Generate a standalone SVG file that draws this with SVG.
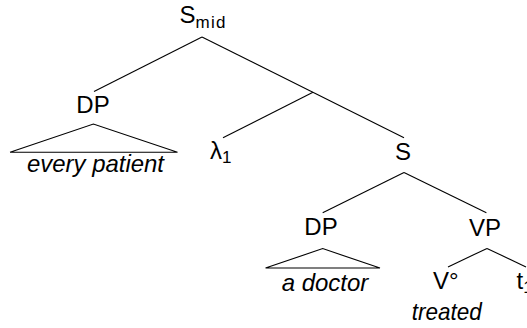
<svg xmlns="http://www.w3.org/2000/svg" width="527" height="328" viewBox="0 0 527 328">
<style>
text{font-family:"Liberation Sans",Arial,sans-serif;font-size:24px;fill:#000}
.it{font-style:italic}
.sub{font-size:17px}
.m{text-anchor:middle}
#edges line,#edges polyline{stroke:#000;stroke-width:1.1;fill:none}
</style>
<rect width="527" height="328" fill="#fff"/>
<g id="edges">
<line x1="202" y1="37" x2="94" y2="91.4"/>
<line x1="202" y1="37" x2="404" y2="137.8"/>
<line x1="313" y1="92.3" x2="223" y2="137.8"/>
<polyline points="10,152.3 93.4,124 177.5,152.3 10,152.3"/>
<line x1="404" y1="172.4" x2="322.7" y2="212.8"/>
<line x1="404" y1="172.4" x2="486.4" y2="212.8"/>
<polyline points="265.5,268 322.7,248.6 380,268 265.5,268"/>
<line x1="487" y1="248.4" x2="448" y2="266.9"/>
<line x1="487" y1="248.4" x2="526" y2="266.9"/>
</g>
<g id="smid"><text x="179.5" y="23.3">S<tspan class="sub" dy="5" textLength="30">mid</tspan></text></g>
<g id="dp1"><text class="m" x="93" y="113">DP</text><text class="it m" x="95.5" y="172" textLength="137" lengthAdjust="spacingAndGlyphs">every patient</text></g>
<g id="lambda"><text x="210" y="159">λ<tspan class="sub" dy="4">1</tspan></text></g>
<g id="s"><text class="m" x="403" y="159.5">S</text></g>
<g id="dp2"><text class="m" x="321" y="235">DP</text><text class="it m" x="325" y="291" textLength="86.6" lengthAdjust="spacingAndGlyphs">a doctor</text></g>
<g id="vp"><text class="m" x="485" y="235.5">VP</text></g>
<g id="v"><text x="433" y="289">V°</text><text class="it m" x="446.7" y="320" textLength="70" lengthAdjust="spacingAndGlyphs">treated</text></g>
<g id="t"><text x="516.5" y="289">t<tspan class="sub" dy="4">1</tspan></text></g>
</svg>
